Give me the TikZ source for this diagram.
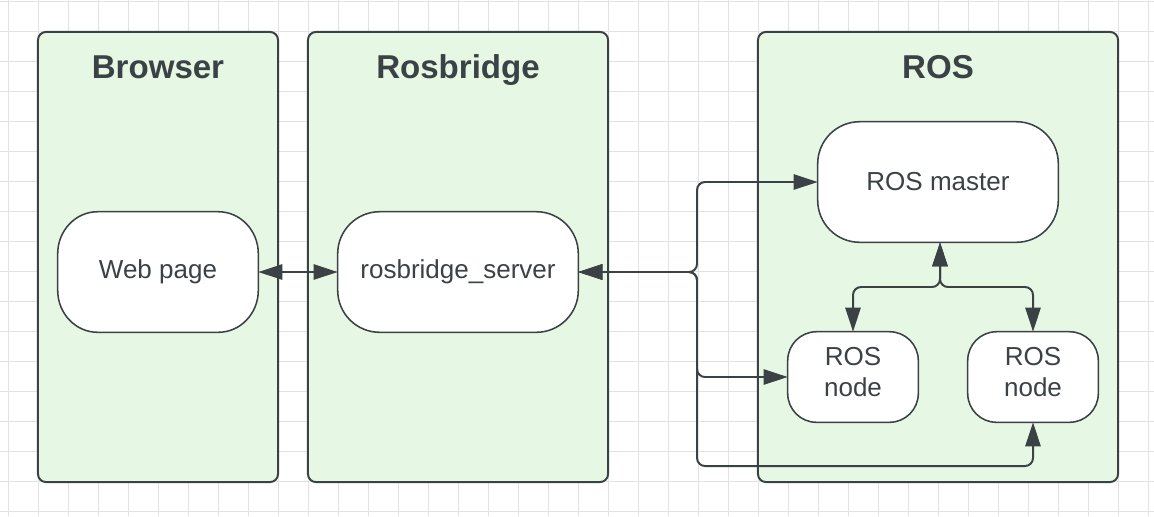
\documentclass[tikz,border=0pt]{standalone}
\usepackage{fontspec}
\setmainfont{Liberation Sans}
\usepackage{tikz}
\usetikzlibrary{arrows.meta}
\usetikzlibrary{calc}
\usetikzlibrary{backgrounds}
\definecolor{ink}{RGB}{58,66,69}
\definecolor{lanegreen}{RGB}{230,247,227}
\definecolor{gridgray}{RGB}{226,226,226}
\tikzset{every picture/.style={line width=1.4pt},
  lane/.style={draw=ink,fill=lanegreen,line width=1.4pt,rounded corners=0.2cm,minimum height=11.25cm},
  title/.style={text=ink,font=\fontsize{23.5}{28}\selectfont\bfseries},
  pill/.style={text=ink,minimum height=3cm,font=\fontsize{18.5}{22}\selectfont},
  smallpill/.style={pill,minimum width=3.25cm,minimum height=2.25cm,align=center,text depth=0.25cm},
  outline/.style={draw=ink,fill=white,line width=1.1pt},
  link/.style={draw=ink,line width=1.4pt,rounded corners=0.2cm,{Triangle[length=0.6cm,width=0.38cm]}-{Triangle[length=0.6cm,width=0.38cm]}}}

\begin{document}
\begin{tikzpicture}[x=0.025cm,y=-0.025cm]
\useasboundingbox (0,0) rectangle (1154,516);
\begin{pgfonlayer}{background}
\fill[white] (0,0) rectangle (1154,516);
% grid
\foreach \gx in {0,...,38} {
\draw[gridgray,line width=0.6pt] (8.3+30*\gx,0) -- (8.3+30*\gx,516);
}
\foreach \gy in {0,...,17} {
\draw[gridgray,line width=0.6pt] (0,1.7+30*\gy) -- (1154,1.7+30*\gy);
}
\node (browser) at (158,257) [lane,minimum width=6cm] {};
\node (rosbridge) at (458,257) [lane,minimum width=7.5cm] {};
\node (ros) at (938,257) [lane,minimum width=9cm] {};
\end{pgfonlayer}

\node (browsertitle) at (158,78) [title,anchor=base] {Browser};
\node (rosbridgetitle) at (458,78) [title,anchor=base] {Rosbridge};
\node (rostitle) at (938,78) [title,anchor=base] {ROS};

\node (web) at (158,272) [pill,minimum width=5cm] {Web page};
\node (server) at (458,272) [pill,minimum width=6cm] {rosbridge\_server};
\node (master) at (938,182) [pill,minimum width=6cm] {ROS master};
\node (nodeL) at (853,377) [smallpill] {ROS\\node};
\node (nodeR) at (1033,377) [smallpill] {ROS\\node};

% pill outlines with elliptic corners
\begin{pgfonlayer}{background}
\foreach \p/\rx/\ry in {web/1.0/1.05, server/1.05/1.05, master/1.05/1.05, nodeL/0.72/0.72, nodeR/0.72/0.72} {
\draw[outline] ($(\p.north west)+(\rx cm,0)$) -- ($(\p.north east)+(-\rx cm,0)$)
  arc[start angle=90,end angle=0,x radius=\rx cm,y radius=\ry cm]
  -- ($(\p.south east)+(0,\ry cm)$)
  arc[start angle=0,end angle=-90,x radius=\rx cm,y radius=\ry cm]
  -- ($(\p.south west)+(\rx cm,0)$)
  arc[start angle=270,end angle=180,x radius=\rx cm,y radius=\ry cm]
  -- ($(\p.north west)+(0,-\ry cm)$)
  arc[start angle=180,end angle=90,x radius=\rx cm,y radius=\ry cm] -- cycle;
}
\end{pgfonlayer}

\coordinate (fork) at (697,272);
\coordinate (under) at (697,466);
\coordinate (hub) at (940,287);

\draw[link] (web) -- (server);
\draw[link] (server.east) -- (fork) |- (master.west);
\draw[link] (server.east) -- (fork) |- (nodeL.west);
\draw[link] (server.east) -- (fork) -- (under) -| (nodeR.south);
\draw[link] (master.south -| hub) -- (hub) -| (nodeL.north);
\draw[link] (master.south -| hub) -- (hub) -| (nodeR.north);
\end{tikzpicture}
\end{document}
